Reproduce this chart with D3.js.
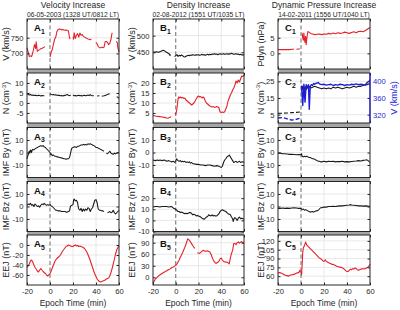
<!DOCTYPE html>
<html>
<head>
<meta charset="utf-8">
<script src="https://cdn.jsdelivr.net/npm/d3@7"></script>
<style>
  body { margin: 0; background: #fff; }
  svg { display: block; font-family: "Liberation Sans", Arial, sans-serif; }
</style>
</head>
<body>
<svg id="chart" width="400" height="310"></svg>
<script>
// ---- data (x = epoch time in min, null = data gap) ----
const epochTicks = [-20, 0, 20, 40, 60];

const colTitles = ["Velocity Increase", "Density Increase", "Dynamic Pressure Increase"];
const colDates = ["06-05-2003 (1328 UT/0812 LT)", "02-08-2012 (1551 UT/1035 LT)", "14-02-2011 (1556 UT/1040 LT)"];

// column A
const velA = [[-20,718],[-19,705],[-18,690],[-17,692],[-16,690],[-15,702],[-14,718],[-13.5,728],[-13,722],[-12.5,716],[-12,737],[-11.5,720],[-11,706],[-10,710],[-9,712],[-8,715],[-7,716],[-6,718],[-5,720],[-4.5,722],[-4,null],
  [0,688],[0.5,695],[1,705],[2,712],[3,730],[4,745],[5,752],[6,770],[7,776],[8,778],[9,777],[10,776],[11,776],[12,775],[13,774],[14,775],[15,773],[16,772],[17,750],[17.5,746],[18,null],
  [20,752],[20.5,745],[21,766],[22,748],[23,758],[24,763],[25,752],[26,765],[27,758],[28,760],[29,755],[30,752],[31,750],[32,748],[33,746],[34,745],[35,744],[36,745],[36.5,null],
  [40,735],[41,730],[42,722],[43,718],[44,718],[45,720],[46,718],[47,720],[48,738],[49,738],[50,735],[51,728],[52,732],[53,745],[54,766],[54.5,null],
  [57.5,738],[58.5,735],[59,718],[60,705]];
const densA = [[-20,4.6],[-19,4.2],[-18,4.0],[-17,4.3],[-16,3.9],[-15,4.0],[-14,3.7],[-13,3.9],[-12,3.8],[-11,3.6],[-10,3.9],[-9,3.7],[-8,3.5],[-7,3.8],[-6,3.6],[-5,3.7],[-4.5,null],
  [0,4.6],[1,4.3],[2,4.1],[3,4.2],[4,4.0],[5,4.1],[6,3.9],[7,3.8],[8,3.9],[9,3.6],[10,3.8],[11,3.5],[12,3.7],[13,3.8],[14,4.0],[15,4.2],[16,3.9],[17,3.7],[18,3.8],[18.5,null],
  [20,4.0],[21,3.6],[22,3.8],[23,3.5],[24,3.7],[25,3.9],[26,3.6],[27,3.8],[28,3.5],[29,3.7],[30,3.9],[31,3.6],[32,3.8],[33,4.0],[34,3.7],[35,4.1],[36,3.8],[37,3.6],[38,3.7],[38.5,null],
  [41,3.5],[43,3.6],[43.5,null],[45,3.4],[47,3.6],[48,3.8],[49,4.0],[50,4.2],[51,4.5],[52,4.6],[52.5,null],[58,3.2],[59,2.8],[60,2.4]];
const byA = [[-20,-5],[-19.5,-3],[-19,-2],[-18.5,0],[-18,1],[-17.5,-0.5],[-17,2],[-16.5,1.5],[-16,0],[-15.5,2],[-15,2.5],[-14,2],[-13,3],[-12,3.5],[-11,4],[-10,4.5],[-9,5],[-8,5.5],[-7,5],[-6,5.5],[-5,4.5],[-4,4],[-3,3],[-2,2],[-1,1],[0,0],[0.5,-1.5],[1,-1],[2,-2.5],[3,-2],[4,-3],[5,-3],[6,-3.5],[7,-3.5],[8,-4],[9,-4],[10,-4.5],[11,-4.5],[12,-5],[13,-5],[14,-5.5],[15,-5],[16,-5],[17,-4],[17.5,-2],[18,0],[18.5,2],[19,3.5],[20,4],[21,4.5],[22,4.5],[23,4],[24,5],[25,5],[26,5.5],[27,6],[28,6],[29,6.5],[30,6],[31,6.5],[32,6],[33,7],[34,6.5],[35,7],[36,6.5],[37,6],[38,5.5],[39,5],[40,4],[41,4],[42,3.5],[43,3],[44,2.5],[45,2],[46,1.5],[47,1],[47.5,null],
  [49,-0.5],[50,-1],[51,0],[52,1],[53,-0.5],[54,-1],[55,-1.5],[56,-0.5],[57,-1],[58,-0.5],[59,0],[60,0]];
const bzA = [[-20,1],[-19,2],[-18,1.5],[-17,2.5],[-16,1],[-15,1.5],[-14,0],[-13,2],[-12,1],[-11,0],[-10,0.5],[-9,-0.5],[-8,1],[-7,2],[-6,1.5],[-5,2.5],[-4,1.5],[-3,1],[-2,1.5],[-1,1],[0,1.5],[1,0.5],[2,0],[3,-1],[4,-2],[5,-3],[6,-3],[7,-3.5],[8,-3.5],[9,-3.5],[10,-4],[11,-4],[12,-4],[13,-4],[14,-4.5],[15,-4.5],[16,-4],[17,-3.5],[17.5,-1],[18,0.5],[19,1],[20,1.5],[20.5,5],[21,6],[22,4.5],[23,5],[24,3],[24.5,0],[25,-2],[26,-3],[27,-1.5],[28,-4],[29,-2],[30,-3.5],[31,-2],[32,-3],[33,-1],[34,-1.5],[35,-4],[36,-2],[37,-1],[38,2],[39,5],[40,5.5],[41,3],[41.5,0],[42,-2],[43,-3],[44,-3],[45,-3.5],[46,-3.5],[47,-4],[47.5,null],
  [50,-5],[51,-4.5],[52,-4],[53,-5],[54,-4.5],[55,-3],[56,-5],[57,-6],[58,-5],[59,-4],[60,-3]];
const eejA = [[-20,-45],[-19,-42],[-18,-38],[-17,-32],[-16,-30],[-15,-34],[-14,-40],[-13,-45],[-12,-48],[-11,-52],[-10,-54],[-9,-50],[-8,-47],[-7,-50],[-6,-53],[-5,-55],[-4,-57],[-3,-60],[-2,-62],[-1,-60],[0,-57],[1,-52],[2,-46],[3,-40],[4,-34],[5,-30],[6,-27],[7,-25],[8,-23],[9,-20],[10,-16],[11,-12],[12,-9],[13,-6],[14,-3],[15,-2],[16,0],[17,-1],[18,-2],[19,-3],[20,-3],[21,-1],[22,0],[23,-2],[24,-1],[25,-3],[26,-2],[27,-3],[28,-4],[29,-5],[30,-7],[31,-10],[32,-14],[33,-19],[34,-25],[35,-31],[36,-38],[37,-45],[38,-52],[39,-58],[40,-63],[41,-68],[42,-71],[43,-73],[44,-74],[45,-73],[46,-72],[47,-71],[48,-70],[49,-68],[50,-67],[51,-66],[52,-62],[53,-55],[54,-47],[55,-38],[56,-28],[57,-18],[58,-10],[59,-5],[60,-2]];

// column B
const velB = [[-20,450],[-19,451],[-18,450],[-17,452],[-16,451],[-15,450],[-14,452],[-13,453],[-12,455],[-11,456],[-10,455],[-9,452],[-8,450],[-7,448],[-6,446],[-5,441],[-4.5,443],[-4,null],
  [-1,437],[0,440],[1,443],[2,438],[3,441],[4,439],[5,442],[6,440],[7,437],[8,436],[9,438],[10,440],[11,441],[12,440],[13,442],[14,441],[15,443],[16,442],[17,441],[18,443],[19,442],[20,443],[21,441],[22,442],[23,444],[24,442],[25,443],[26,441],[27,443],[28,444],[29,442],[30,444],[31,443],[32,445],[33,444],[34,446],[35,444],[36,445],[37,443],[38,445],[39,446],[40,444],[41,445],[42,446],[43,444],[44,445],[45,446],[46,444],[47,446],[48,445],[49,447],[50,446],[51,444],[52,445],[53,446],[54,444],[55,445],[56,443],[57,444],[58,442],[59,443],[60,441]];
const densB = [[-20,3.8],[-18,3.5],[-16,3.3],[-14,3.2],[-12,3.0],[-10,2.8],[-8,2.5],[-7,2.4],[-6,2.6],[-5,2.9],[-4,3.1],[-3.5,null],
  [-0.5,5],[0,4.2],[0.5,5.5],[1,7],[1.5,9.5],[2,12],[2.5,13],[3,12.5],[4,13],[5,12.5],[6,12.8],[7,12.3],[8,12.5],[9,11.5],[10,11],[11,10.5],[12,10],[13,9.5],[14,9],[15,9.5],[16,10],[17,11],[18,12],[19,13],[20,13.5],[21,13],[22,13.2],[23,12.5],[24,13],[25,12.5],[26,11],[27,10],[28,9.5],[29,9],[30,8.5],[31,8.3],[32,8],[33,8.2],[34,7.8],[35,8],[36,8.3],[37,8],[38,7.5],[39,5.5],[40,5.3],[41,5.5],[42,5.3],[43,5.6],[44,7],[45,8.5],[46,11],[47,12.5],[48,14],[49,15],[50,16.5],[51,17.5],[52,19],[53,21],[54,20],[55,21.5],[56,20.5],[57,22],[58,23.5],[59,23.3],[60,24]];
const byB = [[-20,-6],[-18,-6.5],[-16,-6],[-15,-6.5],[-14,-6],[-12,-6.5],[-10,-6],[-8,-7],[-6,-6.5],[-4,-7.5],[-2,-7],[-1,-8],[0,-7],[0.5,-5],[1,-5.5],[2,-6.5],[3,-7],[4,-6.5],[5,-7.5],[6,-7],[7,-7.5],[8,-7],[9,-8],[10,-7.5],[11,-8],[12,-7.5],[13,-8.5],[14,-8],[15,-9],[16,-9],[18,-9.5],[20,-9.5],[22,-10],[24,-10],[26,-10.5],[28,-10],[30,-10],[32,-10.5],[34,-11],[36,-10.5],[38,-11],[39,-11.5],[40,-12],[41,-11],[42,-8],[43,-6],[44,-5],[45,-3.5],[46,-3],[47,-2],[48,-3.5],[49,-5],[50,-6.5],[51,-8],[52,-7.5],[53,-7],[54,-8],[55,-7.5],[56,-7],[57,-8],[58,-7.5],[59,-7.5],[60,-8]];
const bzB = [[-20,12],[-18,12.5],[-16,12.5],[-14,12],[-12,12.5],[-10,12.5],[-8,12.5],[-6,12],[-4,12.5],[-3,12],[-2,11],[-1,10.5],[0,10],[1,9],[2,8],[3,8],[4,7],[5,7.5],[6,7],[7,6.5],[8,6],[9,6.5],[10,6],[11,6.5],[12,7],[13,7],[14,6],[15,5],[16,5.5],[17,5],[18,4],[19,4.5],[20,4],[21,3.5],[22,3],[23,2],[24,1.5],[25,1],[26,2],[27,3],[28,3.5],[29,5],[30,4.5],[31,4],[32,5],[33,4],[34,4.5],[35,4],[36,4],[37,5],[38,6],[39,8],[40,9],[41,9.5],[42,9],[43,8.5],[44,8],[45,7],[46,6],[47,5.5],[48,5],[49,3],[50,1.5],[50.5,-1],[51,1],[52,2.5],[53,1.5],[54,0],[55,2],[56,3],[57,1.5],[58,2],[59,1.5],[60,1]];
const eejB = [[-20,-15],[-19,-10],[-18,-5],[-17,-2],[-16,1],[-15,4],[-14,6],[-13,8],[-12,10],[-11,12],[-10,14],[-9,15],[-8,17],[-7,19],[-6,20],[-5,22],[-4,24],[-3,26],[-2,27],[-1,29],[0,31],[1,35],[2,40],[3,45],[4,52],[5,58],[6,64],[7,71],[8,78],[9,86],[10,95],[10.5,100],[11,99],[12,96],[13,92],[14,87],[15,82],[16,78],[17,75],[17.5,null],
  [19,64],[20,63],[21,62],[22,65],[23,68],[24,70],[25,69],[26,68],[27,68],[28,69],[29,67],[30,66],[31,60],[32,52],[33,45],[34,40],[35,37],[36,37],[37,39],[38,42],[39,48],[40,50],[41,45],[42,41],[43,40],[44,40],[45,39],[46,38],[47,35],[48,50],[49,62],[50,70],[51,88],[52,88],[53,85],[54,90],[55,92],[56,89],[57,91],[58,93],[59,90],[60,88]];

// column C
const pdynC = [[-20,1.2],[-18,1.2],[-16,1.2],[-14,1.2],[-12,1.2],[-10,1.2],[-8,1.3],[-6,1.3],[-5,null],[-4,1.3],[-2,1.4],[-1,1.4],[-0.5,null],
  [1,6.5],[1.5,5],[2,4.2],[2.5,6.5],[3,4.5],[3.5,3.5],[4,5.5],[4.5,2.8],[5,4.5],[5.5,6],[6,7],[7,6.8],[8,6.5],[9,6.3],[10,6.2],[12,6.0],[14,6.1],[16,6.2],[18,6.0],[20,6.2],[22,6.1],[24,6.4],[26,6.2],[28,6.5],[30,6.3],[32,6.6],[34,6.4],[36,6.5],[38,6.8],[40,6.6],[42,6.4],[44,6.7],[46,6.9],[48,6.6],[50,7.0],[52,7.1],[54,6.9],[56,7.3],[58,7.8],[60,8.3]];
const densCPre = [[-20,5.8],[-16,5.9],[-12,6.0],[-8,6.2],[-4,6.4],[0,6.6]];
const velCPre = [[-20,312],[-16,313],[-12,310],[-8,307],[-4,309],[0,312]];
const densC = [[0.5,19],[1.5,22],[2.5,19],[3.5,22],[4.5,20],[5.5,22],[6.5,21],[7.5,22],[8.5,21],[10,21.5],[12,22],[14,21.5],[16,21],[18,20.5],[20,21],[22,20.5],[24,21],[26,20.5],[28,21.5],[30,21],[32,21.5],[34,21],[36,20.5],[38,21],[40,21.5],[42,21],[44,21.5],[46,22],[48,21.5],[50,22],[52,22],[54,22.5],[56,23],[57,24],[58,24.5],[59,25],[60,26]];
const velC = [[0.5,390],[1.5,342],[2.5,393],[3.5,350],[4.5,392],[5.5,384],[6.5,392],[7.2,333],[8,387],[9,392],[10,390],[11,395],[12,393],[13,395],[14,396],[15,397],[16,394],[18,392],[20,393],[22,391],[24,392],[26,393],[28,390],[30,392],[32,391],[34,393],[36,392],[38,390],[40,392],[42,391],[44,393],[46,392],[48,394],[50,392],[52,393],[54,392],[56,391],[58,393],[60,394]];
const byC = [[-20,-0.5],[-18,-0.5],[-16,-1],[-14,-1],[-12,-1.2],[-10,-1.5],[-8,-1.5],[-6,-1.6],[-4,-1.8],[-2,-1.7],[0,-1.8],[0.5,-1],[1,-3],[2,-3.5],[3,-3],[4,-3.5],[5,-3],[6,-3.5],[7,-4],[8,-4],[9,-4.5],[10,-5],[11,-5],[12,-5.5],[13,-6],[14,-6.5],[15,-7],[16,-7],[17,-7.5],[18,-7.5],[20,-7],[22,-7.5],[24,-7],[26,-7.2],[28,-7],[30,-7.5],[32,-7.2],[34,-7.3],[36,-7],[38,-7.5],[40,-7.3],[42,-7.5],[44,-7.2],[46,-7],[48,-6.8],[50,-6.5],[52,-6.8],[54,-6.3],[56,-6],[57,-5.8],[58,-6.3],[59,-7],[60,-8]];
const bzC = [[-20,-1.5],[-18,-1.5],[-16,-1.2],[-14,-1.5],[-12,-1.3],[-10,-1.5],[-8,-1.2],[-6,-1],[-4,-1.2],[-2,-1.5],[0,-1.5],[1,-2.5],[2,-2],[3,-3],[4,-2.5],[5,-3],[6,-3.5],[7,-4],[8,-4.5],[9,-4.2],[10,-4],[11,-4.5],[12,-4],[13,-3.5],[14,-3.5],[15,-3],[16,-2],[17,-1],[18,-1],[20,-0.5],[22,-0.5],[24,0],[26,0],[28,0.2],[30,0],[32,0.3],[34,0.5],[36,0.5],[38,0.8],[40,1],[42,1.2],[43,1.5],[44,1.2],[46,1],[48,0.8],[50,0.5],[52,0.5],[54,0.3],[56,0.5],[58,0.3],[60,0]];
const eejC = [[-20,65],[-19,66],[-18,66],[-17,65],[-16,64],[-15,63],[-14,62],[-13,61],[-12,61],[-11,60],[-10,61],[-9,62],[-8,62],[-7,63],[-6,63],[-5,64],[-4,65],[-3,66],[-2,66],[-1,70],[0,66],[0.5,62],[1,80],[1.5,100],[2,108],[3,112],[4,118],[5,113],[6,111],[7,109],[8,107],[9,105],[10,103],[11,101],[12,99],[13,97],[14,95],[15,93],[16,91],[17,90],[18,88],[19,86],[20,85],[21,88],[22,85],[23,84],[24,83],[25,82],[26,81],[27,80],[28,80],[29,79],[30,78],[31,77],[32,76],[33,76],[34,75],[35,75],[36,74],[37,73],[38,71],[39,69],[40,68],[41,68],[42,70],[43,72],[44,71],[45,73],[46,72],[47,74],[48,73],[49,71],[50,70],[51,71],[52,72],[53,72],[54,73],[55,72],[56,73],[57,74],[58,75],[59,77],[60,80]];

// tick labels per panel
const ticksA = [[700,750],[-5,0,5,10],[-10,0,10],[-10,0,10],[-60,-40,-20,0]];
const ticksB = [[450,500],[5,10,15,20],[-10,0,10],[-10,0,10,20],[0,30,60,90]];
const ticksC = [[0,5],[5,15,25],[-10,0,10],[-10,0,10],[60,75,90,105,120]];
const ticksCRight = [320,360,400];

const red = "#e3222b", blue = "#1d1dd8", black = "#1a1a1a";

// ---- layout ----
const svg = d3.select("#chart");
const colX = [[27,119],[153,244],[278,370]];
const rowTop = [19,73,127.5,181.5,235];
const panelH = 50;
const yLabelX = [7,133,261.5];
const fmt = d => String(d);

const columns = [
  { tag: "A", panels: [
    { ylabel: "V (km/s)", domain: [650,810], ticks: ticksA[0], series: [{ d: velA, c: red }] },
    { ylabel: "N (cm-3)", domain: [-10,15], ticks: ticksA[1], series: [{ d: densA, c: black }] },
    { ylabel: "IMF By (nT)", domain: [-20,20], ticks: ticksA[2], series: [{ d: byA, c: black }] },
    { ylabel: "IMF Bz (nT)", domain: [-20,20], ticks: ticksA[3], series: [{ d: bzA, c: black }] },
    { ylabel: "EEJ (nT)", domain: [-80,20], ticks: ticksA[4], series: [{ d: eejA, c: red }] }
  ]},
  { tag: "B", panels: [
    { ylabel: "V (km/s)", domain: [400,550], ticks: ticksB[0], series: [{ d: velB, c: black }] },
    { ylabel: "N (cm-3)", domain: [0,25], ticks: ticksB[1], series: [{ d: densB, c: red }] },
    { ylabel: "IMF By (nT)", domain: [-20,20], ticks: ticksB[2], series: [{ d: byB, c: black }] },
    { ylabel: "IMF Bz (nT)", domain: [-10,35], ticks: ticksB[3], series: [{ d: bzB, c: black }] },
    { ylabel: "EEJ (nT)", domain: [-20,110], ticks: ticksB[4], series: [{ d: eejB, c: red }] }
  ]},
  { tag: "C", panels: [
    { ylabel: "Pdyn (nPa)", domain: [-5,11], ticks: ticksC[0], series: [{ d: pdynC, c: red }] },
    { ylabel: "N (cm-3)", domain: [0,30], ticks: ticksC[1], series: [{ d: densCPre, c: black, dash: "4,2" }, { d: densC, c: black }],
      right: { domain: [300,420], ticks: ticksCRight, label: "V (km/s)", series: [{ d: velCPre, c: blue, dash: "4,2" }, { d: velC, c: blue }] } },
    { ylabel: "IMF By (nT)", domain: [-20,20], ticks: ticksC[2], series: [{ d: byC, c: black }] },
    { ylabel: "IMF Bz (nT)", domain: [-20,20], ticks: ticksC[3], series: [{ d: bzC, c: black }] },
    { ylabel: "EEJ (nT)", domain: [45,130], ticks: ticksC[4], series: [{ d: eejC, c: red }] }
  ]}
];

function drawLines(g, series, x, y, width) {
  const line = d3.line()
    .defined(d => d[1] !== null)
    .x(d => x(d[0]))
    .y(d => y(d[1]));
  series.forEach(s => {
    g.append("path")
      .attr("d", line(s.d))
      .attr("fill", "none")
      .attr("stroke", s.c)
      .attr("stroke-width", width || 1.1)
      .attr("stroke-dasharray", s.dash || null)
      .attr("stroke-linejoin", "round");
  });
}

function yLabel(g, text, cx, cy, color) {
  const t = g.append("text")
    .attr("transform", `translate(${cx},${cy}) rotate(-90)`)
    .attr("text-anchor", "middle")
    .attr("dominant-baseline", "middle")
    .attr("font-size", 9)
    .attr("fill", color || "#262626");
  if (text === "N (cm-3)") {
    t.append("tspan").text("N (cm");
    t.append("tspan").attr("font-size", 6).attr("dy", -3.5).text("-3");
    t.append("tspan").attr("dy", 3.5).text(")");
  } else {
    t.text(text);
  }
}

columns.forEach((col, ci) => {
  const [x0, x1] = colX[ci];
  const w = x1 - x0;
  const x = d3.scaleLinear().domain([-20, 60]).range([x0, x1]);

  // column titles
  svg.append("text")
    .attr("x", (x0 + x1) / 2).attr("y", 8)
    .attr("text-anchor", "middle")
    .attr("font-size", 8.5).attr("fill", "#262626")
    .text(colTitles[ci]);
  svg.append("text")
    .attr("x", (x0 + x1) / 2).attr("y", 16.5)
    .attr("text-anchor", "middle")
    .attr("font-size", 6.7).attr("fill", "#262626")
    .text(colDates[ci]);

  col.panels.forEach((p, ri) => {
    const top = rowTop[ri], bottom = top + panelH;
    const y = d3.scaleLinear().domain(p.domain).range([bottom, top]);
    const g = svg.append("g");

    // gray band between stacked panels
    if (ri < col.panels.length - 1) {
      g.append("rect")
        .attr("x", x0).attr("y", bottom)
        .attr("width", w).attr("height", rowTop[ri + 1] - bottom)
        .attr("fill", "#a6a6a6");
    }

    // grid
    g.append("g")
      .selectAll("line").data(p.ticks).join("line")
      .attr("x1", x0).attr("x2", x1)
      .attr("y1", d => y(d)).attr("y2", d => y(d))
      .attr("stroke", "#e2e2e2").attr("stroke-width", 0.8);
    g.append("g")
      .selectAll("line").data([20, 40]).join("line")
      .attr("x1", d => x(d)).attr("x2", d => x(d))
      .attr("y1", top).attr("y2", bottom)
      .attr("stroke", "#e2e2e2").attr("stroke-width", 0.8);

    // epoch zero
    g.append("line")
      .attr("x1", x(0)).attr("x2", x(0))
      .attr("y1", top).attr("y2", bottom)
      .attr("stroke", "#6a6a6a").attr("stroke-width", 1)
      .attr("stroke-dasharray", "4,2.5");

    drawLines(g, p.series, x, y);

    // left axis
    const left = g.append("g")
      .attr("transform", `translate(${x0},0)`)
      .call(d3.axisLeft(y).tickValues(p.ticks).tickSize(-2.5).tickPadding(3.5).tickFormat(fmt));
    left.select(".domain").remove();
    left.selectAll("text").attr("font-size", 7.6).attr("fill", "#262626")
      .attr("font-family", "Liberation Sans, Arial, sans-serif");
    left.selectAll("line").attr("stroke", "#262626");

    // right axis
    if (p.right) {
      const yr = d3.scaleLinear().domain(p.right.domain).range([bottom, top]);
      drawLines(g, p.right.series, x, yr, 1.4);
      const ra = g.append("g")
        .attr("transform", `translate(${x1},0)`)
        .call(d3.axisRight(yr).tickValues(p.right.ticks).tickSize(-2.5).tickPadding(3).tickFormat(fmt));
      ra.select(".domain").remove();
      ra.selectAll("text").attr("font-size", 7.6).attr("fill", blue)
        .attr("font-family", "Liberation Sans, Arial, sans-serif");
      ra.selectAll("line").attr("stroke", blue);
      yLabel(g, p.right.label, 394.5, (top + bottom) / 2, blue);
    } else {
      const ra = g.append("g")
        .attr("transform", `translate(${x1},0)`)
        .call(d3.axisRight(y).tickValues(p.ticks).tickSize(-2.5).tickFormat(""));
      ra.select(".domain").remove();
      ra.selectAll("line").attr("stroke", "#262626");
    }

    // top / bottom ticks
    const tx = g.append("g")
      .attr("transform", `translate(0,${top})`)
      .call(d3.axisTop(x).tickValues(epochTicks).tickSize(-2.5).tickFormat(""));
    tx.select(".domain").remove();
    tx.selectAll("line").attr("stroke", "#262626");
    const isLast = ri === col.panels.length - 1;
    const bx = g.append("g")
      .attr("transform", `translate(0,${bottom})`)
      .call(d3.axisBottom(x).tickValues(epochTicks).tickSize(-2.5).tickPadding(4)
        .tickFormat(isLast ? fmt : ""));
    bx.select(".domain").remove();
    bx.selectAll("line").attr("stroke", "#262626");
    bx.selectAll("text").attr("font-size", 7.6).attr("fill", "#262626")
      .attr("font-family", "Liberation Sans, Arial, sans-serif");

    // frame
    g.append("rect")
      .attr("x", x0).attr("y", top)
      .attr("width", w).attr("height", panelH)
      .attr("fill", "none")
      .attr("stroke", "#262626")
      .attr("stroke-width", 1);
    if (p.right) {
      g.append("line")
        .attr("x1", x1).attr("x2", x1).attr("y1", top).attr("y2", bottom)
        .attr("stroke", blue).attr("stroke-width", 1.1);
    }

    // panel tag
    const tag = g.append("text")
      .attr("x", x0 + 7).attr("y", top + 12)
      .attr("font-size", 9.5).attr("font-weight", "bold").attr("fill", "#111");
    tag.append("tspan").text(col.tag);
    tag.append("tspan").attr("font-size", 6.8).attr("dy", 2.5).text(ri + 1);

    yLabel(g, p.ylabel, yLabelX[ci], (top + bottom) / 2);
  });

  svg.append("text")
    .attr("x", (x0 + x1) / 2).attr("y", 305.5)
    .attr("text-anchor", "middle")
    .attr("font-size", 8.5).attr("fill", "#262626")
    .text("Epoch Time (min)");
});
</script>
</body>
</html>
